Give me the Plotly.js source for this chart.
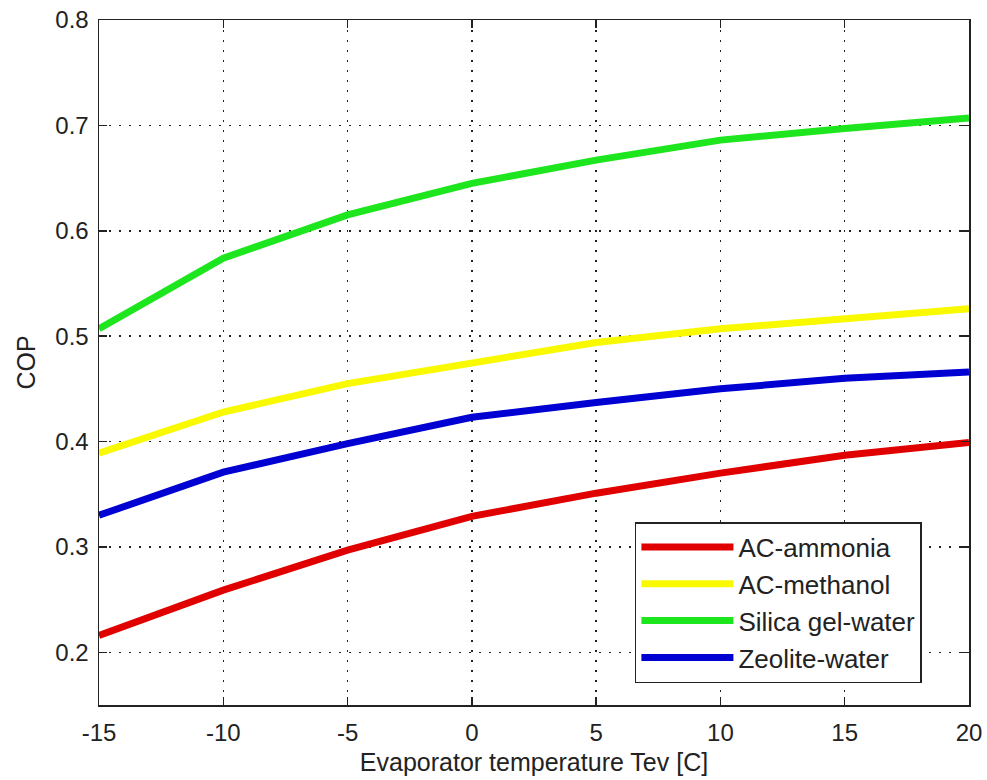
<!DOCTYPE html>
<html>
<head>
<meta charset="utf-8">
<script src="https://cdn.plot.ly/plotly-3.0.1.min.js"></script>
<style>
  html, body { margin: 0; padding: 0; background: #fff; }
  #chart { width: 987px; height: 780px; }
</style>
</head>
<body>
<div id="chart"></div>
<script>
// Evaporator temperature (°C)
const tev = [-15, -10, -5, 0, 5, 10, 15, 20];
const tevTickLabels = ['-15', '-10', '-5', '0', '5', '10', '15', '20'];

// COP axis ticks
const copTicks = [0.2, 0.3, 0.4, 0.5, 0.6, 0.7, 0.8];
const copTickLabels = ['0.2', '0.3', '0.4', '0.5', '0.6', '0.7', '0.8'];

// COP of each adsorption pair
const acAmmonia    = [0.216, 0.259, 0.297, 0.329, 0.351, 0.370, 0.387, 0.399];
const acMethanol   = [0.389, 0.428, 0.455, 0.475, 0.494, 0.507, 0.517, 0.526];
const silicaWater  = [0.507, 0.574, 0.615, 0.645, 0.667, 0.686, 0.697, 0.707];
const zeoliteWater = [0.330, 0.371, 0.398, 0.423, 0.437, 0.450, 0.460, 0.466];

const seriesNames  = ['AC-ammonia', 'AC-methanol', 'Silica gel-water', 'Zeolite-water'];
const seriesValues = [acAmmonia, acMethanol, silicaWater, zeoliteWater];
const seriesColors = ['#e00000', '#f9f900', '#1ee61e', '#0000d2'];

const FONT = '"Liberation Sans", Arial, sans-serif';
const INK = '#222';

const traces = seriesNames.map((name, i) => ({
  x: tev,
  y: seriesValues[i],
  name: name,
  legendgroup: 'g' + i,
  type: 'scatter',
  mode: 'lines',
  line: { color: seriesColors[i], width: 7 }
}));

const axisCommon = {
  showline: true,
  linecolor: INK,
  linewidth: 1.5,
  mirror: 'allticks',
  ticks: 'inside',
  ticklen: 8,
  tickwidth: 1.5,
  tickcolor: INK,
  showgrid: true,
  gridcolor: INK,
  gridwidth: 1.5,
  griddash: '2px,8px',
  zeroline: false,
  tickfont: { family: FONT, size: 24, color: INK }
};

const layout = {
  width: 987,
  height: 780,
  paper_bgcolor: '#fff',
  plot_bgcolor: '#fff',
  margin: { l: 99, r: 18, t: 20, b: 75 },
  font: { family: FONT, size: 24, color: INK },
  showlegend: true,
  xaxis: Object.assign({}, axisCommon, {
    range: [-15, 20],
    tickmode: 'array',
    tickvals: tev,
    ticktext: tevTickLabels,
    ticklabelstandoff: 6,
    title: { text: 'Evaporator temperature Tev [C]', font: { family: FONT, size: 25, color: INK }, standoff: 8 }
  }),
  yaxis: Object.assign({}, axisCommon, {
    range: [0.15, 0.8],
    tickmode: 'array',
    tickvals: copTicks,
    ticktext: copTickLabels,
    ticklabelstandoff: 4,
    title: { text: 'COP', font: { family: FONT, size: 25, color: INK }, standoff: 12 }
  }),
  legend: {
    x: 0.616,
    y: 0.267,
    xanchor: 'left',
    yanchor: 'top',
    bgcolor: '#fff',
    bordercolor: INK,
    borderwidth: 1.5,
    itemwidth: 92,
    tracegroupgap: 0,
    font: { family: FONT, size: 26, color: INK }
  }
};

Plotly.newPlot('chart', traces, layout, { displayModeBar: false, staticPlot: true });
</script>
</body>
</html>
